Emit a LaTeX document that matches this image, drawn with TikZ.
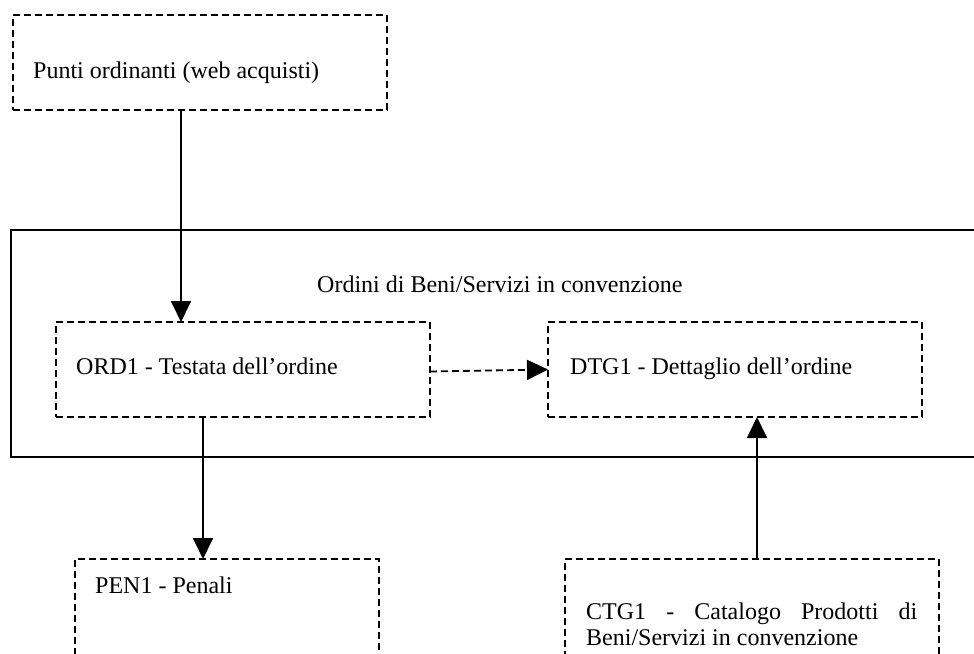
\documentclass[tikz,border=0pt]{standalone}
\usepackage{fontspec}
\setmainfont{Liberation Serif}
\usetikzlibrary{arrows.meta}
\begin{document}
\begin{tikzpicture}[x=1pt,y=-1pt,
  dbox/.style={draw,dash pattern=on 7pt off 4pt,line width=1.8pt,inner sep=0pt,outer sep=0pt,rectangle},
  frame/.style={draw,line width=1.8pt,inner sep=0pt,outer sep=0pt,rectangle},
  lbl/.style={anchor=base west,inner sep=0pt,font=\fontsize{24}{28}\selectfont},
  arr/.style={line width=1.8pt,-{Triangle[length=21pt,width=20pt]}},
  darr/.style={arr,dash pattern=on 7pt off 4pt}]
\useasboundingbox (0,0) rectangle (974,653);
\clip (0,0) rectangle (974,653);
% boxes
\node[dbox,minimum width=374pt,minimum height=95pt] (src) at (200,62.5) {};
\node[frame,minimum width=979pt,minimum height=227pt] (grp) at (500.5,343.5) {};
\node[dbox,minimum width=374pt,minimum height=95pt] (ord) at (243,369.5) {};
\node[dbox,minimum width=374pt,minimum height=95pt] (dtg) at (735,369.5) {};
\node[dbox,minimum width=304pt,minimum height=161pt] (pen) at (227,639.5) {};
\node[dbox,minimum width=374pt,minimum height=161pt] (ctg) at (752,639.5) {};
% labels
\node[lbl] (srct) at (33,78) {Punti ordinanti (web acquisti)};
\node[lbl] (grpt) at (317,292) {Ordini di Beni/Servizi in convenzione};
\node[lbl] (ordt) at (76,374) {ORD1 - Testata dell’ordine};
\node[lbl] (dtgt) at (570,374) {DTG1 - Dettaglio dell’ordine};
\node[lbl] (pent) at (95,593) {PEN1 - Penali};
\node[lbl] (ctgt) at (586,619) {\makebox[331pt][s]{CTG1 - Catalogo Prodotti di}};
\node[lbl] (ctgu) at (586,645) {Beni/Servizi in convenzione};
% connectors
\draw[arr] ([xshift=-19pt]src.south) -- ([xshift=-62pt]ord.north);
\draw[darr] ([yshift=-2pt]ord.east) -- (dtg.west);
\draw[arr] ([xshift=-40pt]ord.south) -- ([xshift=-24pt]pen.north);
\draw[arr] ([xshift=5pt]ctg.north) -- ([xshift=22pt]dtg.south);
\end{tikzpicture}
\end{document}
